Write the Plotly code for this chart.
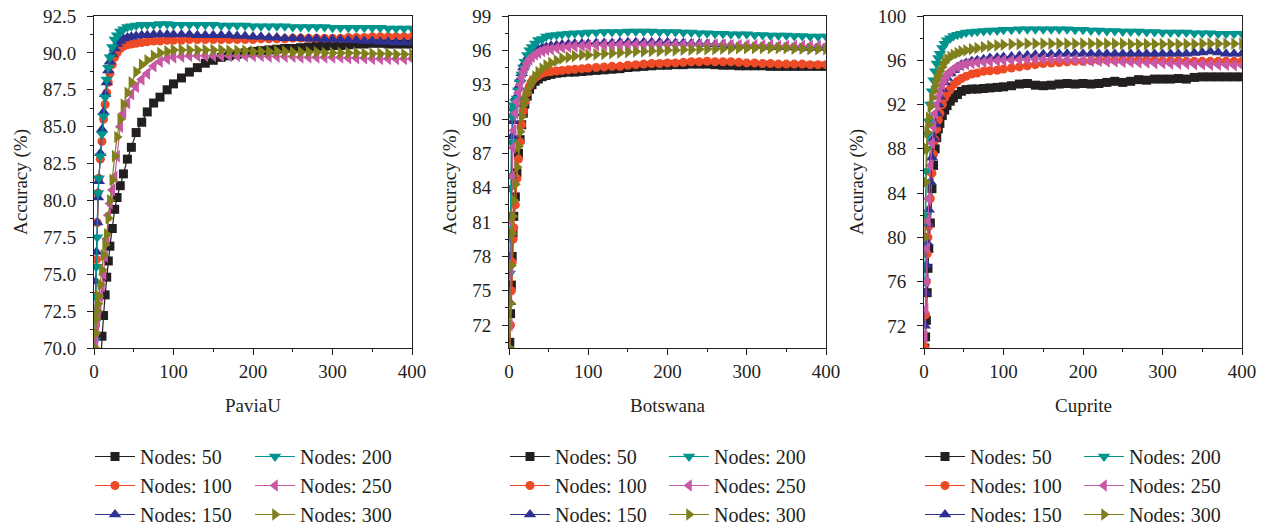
import plotly.graph_objects as go

X = [1, 2, 3, 4, 5, 6, 8, 10, 12, 14, 16, 18, 20, 23, 26, 29, 33, 37, 42, 47, 53, 60, 67, 75, 83, 92, 100,
     110, 120, 130, 140, 150, 160, 170, 180, 190, 200, 210, 220, 230, 240, 250, 260, 270, 280, 290, 300,
     310, 320, 330, 340, 350, 360, 370, 380, 390, 400]

SERIES = ["Nodes: 50", "Nodes: 100", "Nodes: 150", "Nodes: 200", "Nodes: 250", "Nodes: 300"]
DATASETS = ["PaviaU", "Botswana", "Cuprite"]

# PaviaU
P_50 = [55, 58, 61, 63, 65, 66.5, 68.8, 70.8, 72.2, 73.6, 74.8, 75.9, 76.9, 78.1, 79.4, 80.2, 81.0, 81.8, 82.8, 83.6, 84.6, 85.3, 86.0, 86.6, 87.0, 87.5, 87.9,
        88.3, 88.7, 89.0, 89.3, 89.5, 89.7, 89.8, 89.9, 90.0, 90.1, 90.15, 90.2, 90.25, 90.3, 90.3, 90.35, 90.4, 90.45, 90.45, 90.5,
        90.5, 90.55, 90.6, 90.6, 90.65, 90.65, 90.6, 90.6, 90.6, 90.6]
P_100 = [71, 73.5, 76, 78.5, 80.5, 81.5, 82.8, 84, 85.5, 86.5, 87.3, 88.0, 88.6, 89.2, 89.7, 90.0, 90.3, 90.45, 90.55, 90.6, 90.65, 90.7, 90.75, 90.8, 90.8, 90.85, 90.85,
         90.85, 90.9, 90.9, 90.9, 90.9, 90.9, 90.9, 90.9, 90.9, 90.9, 90.95, 90.95, 90.95, 90.95, 91.0, 91.0, 91.0, 91.0, 91.0, 91.0,
         91.0, 91.05, 91.05, 91.05, 91.1, 91.1, 91.1, 91.1, 91.1, 91.1]
P_150 = [72, 74.5, 76.5, 78.5, 80.2, 81.3, 83.2, 84.8, 86.0, 87.2, 88.0, 88.8, 89.4, 89.9, 90.3, 90.6, 90.8, 90.95, 91.05, 91.1, 91.15, 91.2, 91.2, 91.25, 91.25, 91.25, 91.25,
         91.25, 91.25, 91.2, 91.2, 91.2, 91.2, 91.2, 91.15, 91.15, 91.1, 91.1, 91.05, 91.05, 91.0, 91.0, 91.0, 90.95, 90.95, 90.9, 90.9,
         90.9, 90.85, 90.85, 90.8, 90.8, 90.75, 90.75, 90.7, 90.7, 90.7]
P_200 = [70.5, 73.5, 75.5, 77.5, 80.5, 81.5, 83.0, 84.5, 85.7, 87.0, 88.2, 89.0, 89.7, 90.4, 90.9, 91.2, 91.45, 91.6, 91.75, 91.8, 91.85, 91.9, 91.9, 91.9, 91.95, 91.95, 91.9,
         91.9, 91.9, 91.9, 91.9, 91.9, 91.85, 91.85, 91.85, 91.85, 91.8, 91.8, 91.8, 91.8, 91.8, 91.75, 91.75, 91.75, 91.75, 91.75, 91.7,
         91.7, 91.7, 91.7, 91.7, 91.7, 91.7, 91.65, 91.65, 91.65, 91.65]
P_250 = [69, 70.5, 71.2, 71.8, 72.3, 72.7, 73.5, 74.2, 75.0, 76.2, 77.4, 79.0, 79.8, 80.7, 81.6, 83.0, 85.0, 85.9, 86.6, 87.2, 87.7, 88.2, 88.6, 89.1, 89.4, 89.6, 89.7,
         89.75, 89.8, 89.8, 89.8, 89.8, 89.8, 89.8, 89.8, 89.8, 89.8, 89.8, 89.75, 89.75, 89.75, 89.75, 89.7, 89.7, 89.7, 89.7, 89.7,
         89.7, 89.65, 89.65, 89.65, 89.6, 89.6, 89.6, 89.6, 89.6, 89.6]
P_300 = [70, 71, 72, 72.5, 73, 73.5, 74.3, 75.3, 76.3, 77.0, 77.7, 78.8, 80.0, 81.4, 83.0, 84.3, 85.5, 86.5, 87.3, 88.0, 88.7, 89.2, 89.5, 89.8, 90.0, 90.1, 90.2,
         90.2, 90.2, 90.2, 90.2, 90.2, 90.2, 90.15, 90.15, 90.15, 90.1, 90.1, 90.1, 90.1, 90.1, 90.05, 90.05, 90.05, 90.05, 90.0, 90.0,
         90.0, 90.0, 90.0, 89.95, 89.95, 89.95, 89.95, 89.9, 89.9, 89.9]

# Botswana
B_50 = [70.5, 73, 75.5, 78, 80, 81.5, 83.2, 85.3, 87, 88.2, 89.5, 90.5, 91.3, 92.0, 92.6, 93.0, 93.3, 93.5, 93.7, 93.8, 93.9, 94.0, 94.05, 94.1, 94.1, 94.15, 94.2,
        94.25, 94.3, 94.35, 94.4, 94.5, 94.55, 94.6, 94.65, 94.7, 94.7, 94.75, 94.75, 94.8, 94.8, 94.8, 94.75, 94.7, 94.7, 94.65, 94.65,
        94.65, 94.65, 94.6, 94.6, 94.6, 94.6, 94.6, 94.6, 94.6, 94.6]
B_100 = [69.5, 72, 75, 77.5, 79.5, 80.5, 82.5, 84.8, 86.5, 88, 89.5, 90.7, 91.5, 92.3, 92.9, 93.3, 93.6, 93.8, 94.0, 94.1, 94.15, 94.2, 94.25, 94.3, 94.35, 94.4, 94.45,
         94.5, 94.55, 94.6, 94.6, 94.7, 94.75, 94.8, 94.85, 94.85, 94.9, 94.9, 94.95, 95.0, 95.0, 95.05, 95.0, 95.0, 95.0, 94.95, 94.9,
         94.9, 94.85, 94.85, 94.8, 94.8, 94.8, 94.8, 94.75, 94.75, 94.75]
B_150 = [74, 80, 85, 88.5, 89.8, 90.5, 91.3, 92.0, 92.8, 93.5, 94.0, 94.5, 94.9, 95.3, 95.6, 95.8, 96.0, 96.1, 96.25, 96.3, 96.4, 96.45, 96.5, 96.55, 96.6, 96.6, 96.6,
         96.65, 96.65, 96.65, 96.7, 96.7, 96.7, 96.7, 96.7, 96.7, 96.7, 96.65, 96.65, 96.6, 96.6, 96.55, 96.5, 96.5, 96.45, 96.4, 96.4,
         96.35, 96.35, 96.3, 96.3, 96.3, 96.25, 96.25, 96.2, 96.2, 96.2]
B_200 = [76.5, 84, 88, 90.2, 90.8, 91.2, 91.5, 91.8, 92.5, 93.2, 93.9, 94.5, 95.0, 95.6, 96.0, 96.3, 96.6, 96.9, 97.0, 97.2, 97.3, 97.35, 97.4, 97.45, 97.5, 97.5, 97.55,
         97.55, 97.6, 97.6, 97.6, 97.65, 97.65, 97.65, 97.65, 97.6, 97.6, 97.6, 97.55, 97.55, 97.5, 97.5, 97.45, 97.45, 97.4, 97.4, 97.4,
         97.35, 97.35, 97.3, 97.3, 97.3, 97.25, 97.25, 97.2, 97.2, 97.2]
B_250 = [72, 77, 81, 85, 87.5, 89, 90.5, 91.5, 92.3, 93.0, 93.6, 94.1, 94.5, 94.9, 95.2, 95.45, 95.65, 95.8, 95.95, 96.05, 96.1, 96.2, 96.25, 96.3, 96.35, 96.4, 96.4,
         96.45, 96.45, 96.45, 96.5, 96.5, 96.5, 96.5, 96.5, 96.5, 96.5, 96.5, 96.5, 96.5, 96.5, 96.5, 96.5, 96.5, 96.45, 96.45, 96.45,
         96.45, 96.45, 96.45, 96.4, 96.4, 96.4, 96.4, 96.4, 96.4, 96.4]
B_300 = [70, 73.9, 77.2, 80, 81.5, 82.9, 84.3, 85.8, 87.6, 88.9, 90.2, 91.2, 91.7, 92.3, 92.9, 93.3, 93.7, 94.1, 94.4, 94.7, 94.9, 95.1, 95.3, 95.4, 95.5, 95.6, 95.6,
         95.65, 95.7, 95.75, 95.8, 95.85, 95.9, 95.9, 95.95, 95.95, 96.0, 96.0, 96.05, 96.05, 96.1, 96.1, 96.1, 96.15, 96.15, 96.2, 96.2,
         96.2, 96.2, 96.2, 96.2, 96.2, 96.15, 96.15, 96.1, 96.1, 96.1]

# Cuprite
C_50 = [70, 71, 72.5, 75, 77.2, 79, 81.3, 84.4, 86.5, 88, 89, 89.8, 90.3, 91, 91.5, 91.9, 92.3, 92.6, 92.9, 93.2, 93.35, 93.4, 93.4, 93.45, 93.5, 93.55, 93.6,
        93.7, 93.85, 93.9, 93.75, 93.7, 93.75, 93.85, 93.9, 93.85, 93.9, 93.85, 93.9, 94.0, 94.1, 94.0, 94.1, 94.25, 94.2, 94.3, 94.3,
        94.3, 94.35, 94.3, 94.45, 94.5, 94.5, 94.5, 94.5, 94.5, 94.5]
C_100 = [70, 73, 76, 78.5, 80, 81, 83.5, 85.8, 87.5, 88.8, 89.8, 90.6, 91.2, 92, 92.6, 93.0, 93.4, 93.8, 94.1, 94.35, 94.55, 94.75, 94.85, 95.0, 95.05, 95.1, 95.2,
         95.3, 95.4, 95.5, 95.6, 95.7, 95.75, 95.8, 95.85, 95.9, 95.9, 95.95, 96.0, 96.0, 96.0, 96.0, 96.0, 96.0, 96.0, 96.0, 95.95,
         95.95, 95.95, 95.9, 95.9, 95.9, 95.9, 95.9, 95.9, 95.9, 95.9]
C_150 = [72, 75, 77.5, 79.5, 81.2, 82.5, 85, 87.2, 88.9, 90.2, 91.2, 92, 92.7, 93.4, 94, 94.4, 94.8, 95.1, 95.4, 95.6, 95.75, 95.9, 96.0, 96.1, 96.2, 96.25, 96.3,
         96.35, 96.4, 96.45, 96.5, 96.55, 96.55, 96.6, 96.6, 96.6, 96.6, 96.6, 96.6, 96.6, 96.6, 96.6, 96.6, 96.6, 96.6, 96.6, 96.6,
         96.6, 96.6, 96.6, 96.65, 96.7, 96.8, 96.7, 96.6, 96.6, 96.6]
C_200 = [76, 82, 86, 88, 89.3, 90.5, 92, 93.2, 94.2, 95, 95.7, 96.2, 96.6, 97.1, 97.5, 97.8, 98.0, 98.2, 98.3, 98.4, 98.5, 98.55, 98.6, 98.65, 98.7, 98.7, 98.75,
         98.75, 98.8, 98.8, 98.8, 98.8, 98.8, 98.8, 98.8, 98.75, 98.75, 98.7, 98.7, 98.65, 98.65, 98.6, 98.6, 98.6, 98.55, 98.55, 98.5,
         98.5, 98.5, 98.5, 98.45, 98.45, 98.45, 98.4, 98.4, 98.4, 98.4]
C_250 = [71, 73.5, 76, 79, 81.5, 83.5, 86.5, 88.5, 90, 91.2, 92.0, 92.7, 93.2, 93.8, 94.3, 94.7, 95.0, 95.2, 95.4, 95.55, 95.65, 95.75, 95.8, 95.85, 95.9, 95.95, 96.0,
         96.0, 96.05, 96.05, 96.1, 96.1, 96.1, 96.1, 96.05, 96.05, 96.0, 95.95, 95.95, 95.9, 95.9, 95.85, 95.85, 95.8, 95.8, 95.75, 95.75,
         95.7, 95.7, 95.7, 95.65, 95.65, 95.6, 95.6, 95.6, 95.55, 95.55]
C_300 = [80, 85, 88, 89.5, 90.2, 90.8, 91.8, 92.6, 93.2, 93.7, 94.2, 94.6, 95.0, 95.4, 95.8, 96.1, 96.3, 96.5, 96.65, 96.8, 96.9, 97.0, 97.1, 97.2, 97.3, 97.35, 97.4,
         97.45, 97.45, 97.5, 97.5, 97.5, 97.5, 97.5, 97.5, 97.5, 97.5, 97.5, 97.5, 97.5, 97.5, 97.5, 97.45, 97.45, 97.45, 97.45, 97.45,
         97.45, 97.45, 97.45, 97.45, 97.5, 97.5, 97.5, 97.5, 97.5, 97.5]

PANEL_DATA = [
    [P_50, P_100, P_150, P_200, P_250, P_300],
    [B_50, B_100, B_150, B_200, B_250, B_300],
    [C_50, C_100, C_150, C_200, C_250, C_300],
]

COLORS = ['#231f20', '#ef4a26', '#2e3192', '#00948f', '#c858a6', '#7f7f1c']
SYMBOLS = ['square', 'circle', 'triangle-up', 'triangle-down', 'triangle-left', 'triangle-right']
SIZES = [9, 9, 11, 11, 11, 11]

W, H = 1269, 529
FONT = "Liberation Serif"
TXT = '#231f20'

X_DOMS = [(94, 412), (509, 826), (924, 1242)]
Y_TOP, Y_BOT = 16, 348
Y_AXES = [
    dict(range=[70, 92.5], tick0=70, dtick=2.5, tickformat='.1f', minor_dtick=1.25),
    dict(range=[70, 99], tick0=72, dtick=3, tickformat='d', minor_dtick=1.5),
    dict(range=[70, 100], tick0=72, dtick=4, tickformat='d', minor_dtick=2),
]
YTITLE_X = [21, 450, 857]
LEG_X = [(90, 250), (505, 664), (920, 1079)]

fig = go.Figure()
layout = dict(width=W, height=H, margin=dict(l=0, r=0, t=0, b=0, autoexpand=False),
              paper_bgcolor='white', plot_bgcolor='white', showlegend=True,
              font=dict(family=FONT, size=19, color=TXT), annotations=[])

for p in range(3):
    sfx = '' if p == 0 else str(p + 1)
    for i, name in enumerate(SERIES):
        col = 0 if i < 3 else 1
        leg_idx = p * 2 + col + 1
        leg_name = 'legend' if leg_idx == 1 else f'legend{leg_idx}'
        fig.add_trace(go.Scatter(
            x=X, y=PANEL_DATA[p][i], mode='lines+markers', name=name,
            xaxis='x' + sfx, yaxis='y' + sfx,
            line=dict(color=COLORS[i], width=1.2),
            marker=dict(symbol=SYMBOLS[i], size=SIZES[i], color=COLORS[i], line=dict(width=0)),
            legend=leg_name, legendgroup=f'{p}-{i}', showlegend=True,
        ))
    x0, x1 = X_DOMS[p]
    ya = Y_AXES[p]
    layout['xaxis' + sfx] = dict(
        domain=[x0 / W, x1 / W], range=[0, 400], tick0=0, dtick=100,
        ticks='outside', ticklen=6, tickwidth=1, tickcolor=TXT,
        showline=True, linecolor=TXT, linewidth=1, mirror=True,
        showgrid=False, zeroline=False, anchor='y' + sfx, automargin=False,
        tickfont=dict(family=FONT, size=19, color=TXT),
        minor=dict(ticks='outside', ticklen=3, dtick=50, tickcolor=TXT, showgrid=False),
    )
    layout['yaxis' + sfx] = dict(
        domain=[1 - Y_BOT / H, 1 - Y_TOP / H], range=ya['range'], tick0=ya['tick0'],
        dtick=ya['dtick'], tickformat=ya['tickformat'],
        ticks='outside', ticklen=6, tickwidth=1, tickcolor=TXT, ticklabelstandoff=7,
        showline=True, linecolor=TXT, linewidth=1, mirror=True,
        showgrid=False, zeroline=False, anchor='x' + sfx, automargin=False,
        tickfont=dict(family=FONT, size=19, color=TXT),
        minor=dict(ticks='outside', ticklen=3, dtick=ya['minor_dtick'], tick0=ya['tick0'],
                   tickcolor=TXT, showgrid=False),
    )
    layout['annotations'].append(dict(
        text=DATASETS[p], x=(x0 + x1) / 2 / W, y=1 - 405 / H, xref='paper', yref='paper',
        showarrow=False, xanchor='center', yanchor='middle',
        font=dict(family=FONT, size=19, color=TXT)))
    layout['annotations'].append(dict(
        text='Accuracy (%)', x=YTITLE_X[p] / W, y=1 - 182 / H, xref='paper', yref='paper',
        showarrow=False, xanchor='center', yanchor='middle', textangle=-90,
        font=dict(family=FONT, size=19, color=TXT)))
    for c in range(2):
        leg_idx = p * 2 + c + 1
        key = 'legend' if leg_idx == 1 else f'legend{leg_idx}'
        layout[key] = dict(
            x=LEG_X[p][c] / W, y=1 - 437 / H, xref='container', yref='container',
            xanchor='left', yanchor='top', itemwidth=40,
            orientation='v', bgcolor='rgba(0,0,0,0)', borderwidth=0,
            tracegroupgap=6, font=dict(family=FONT, size=20, color=TXT),
            traceorder='normal')

fig.update_layout(**layout)
fig.write_html("out.html")
